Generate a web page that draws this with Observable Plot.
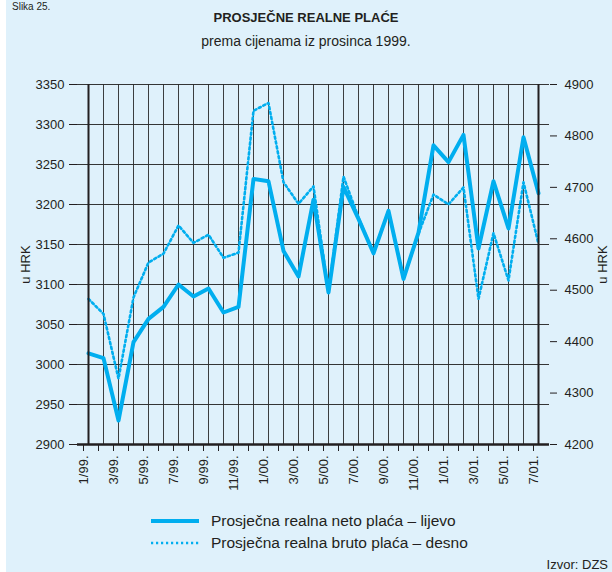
<!DOCTYPE html>
<html>
<head>
<meta charset="utf-8">
<script src="https://cdn.jsdelivr.net/npm/d3@7"></script>
<script src="https://cdn.jsdelivr.net/npm/@observablehq/plot@0.6"></script>
<style>
  html, body { margin: 0; padding: 0; background: #fff; }
  #wrap { position: relative; width: 612px; height: 572px; overflow: hidden; background: #fff;
          font-family: "Liberation Sans", Arial, Helvetica, sans-serif; color: #231f20; }
  #bg { position: absolute; left: 6px; top: 0; width: 606px; height: 572px; background: #dff1fb; }
  .t { position: absolute; white-space: nowrap; }
  #slika { left: 12px; top: 1px; font-size: 10px; line-height: 11px; }
  #title { left: 0; width: 612px; top: 10px; text-align: center; font-size: 13px; font-weight: bold; }
  #subtitle { left: 0; width: 612px; top: 33px; text-align: center; font-size: 14px; }
  #chart { position: absolute; left: 0; top: 60px; }
  .leg { position: absolute; left: 151px; font-size: 15.5px; }
  .leg svg { position: absolute; left: 0; top: 0; }
  .leg span { position: absolute; left: 60px; top: 0; white-space: nowrap; }
  #src { right: 4px; top: 557px; font-size: 13px; }
</style>
</head>
<body>
<div id="wrap">
  <div id="bg"></div>
  <div class="t" id="slika">Slika 25.</div>
  <div class="t" id="title">PROSJEČNE REALNE PLAĆE</div>
  <div class="t" id="subtitle">prema cijenama iz prosinca 1999.</div>
  <div id="chart"></div>
  <div class="leg" id="leg1" style="top:512px"></div>
  <div class="leg" id="leg2" style="top:534px"></div>
  <div class="t" id="src">Izvor: DZS</div>
</div>
<script>
// ---- data ----
const months = ["1/99","2/99","3/99","4/99","5/99","6/99","7/99","8/99","9/99","10/99","11/99","12/99",
                "1/00","2/00","3/00","4/00","5/00","6/00","7/00","8/00","9/00","10/00","11/00","12/00",
                "1/01","2/01","3/01","4/01","5/01","6/01","7/01"];
const labeledMonths = ["1/99","3/99","5/99","7/99","9/99","11/99","1/00","3/00","5/00","7/00","9/00","11/00","1/01","3/01","5/01","7/01"];
const neto = [3014, 3008, 2930, 3028, 3057, 3072, 3100, 3085, 3095, 3065, 3072, 3232,
              3229, 3142, 3110, 3206, 3090, 3222, 3182, 3139, 3192, 3107, 3165, 3274,
              3253, 3287, 3145, 3229, 3170, 3284, 3214];
const bruto = [4483, 4454, 4328, 4486, 4554, 4571, 4626, 4592, 4608, 4563, 4573, 4849,
               4864, 4710, 4668, 4702, 4496, 4721, 4641, 4572, 4655, 4522, 4610, 4686,
               4667, 4700, 4483, 4611, 4519, 4710, 4590];
const leftTicks = [2900, 2950, 3000, 3050, 3100, 3150, 3200, 3250, 3300, 3350];
const rightTicks = [4200, 4300, 4400, 4500, 4600, 4700, 4800, 4900];
const legendLabels = ["Prosječna realna neto plaća – lijevo", "Prosječna realna bruto plaća – desno"];

const lineColor = "#00aeef";
const ink = "#231f20";
const dash = "2.2 2.8";
const L0 = leftTicks[0], L1 = leftTicks[leftTicks.length - 1];
const R0 = rightTicks[0], R1 = rightTicks[rightTicks.length - 1];
const toL = v => L0 + (v - R0) * (L1 - L0) / (R1 - R0);
const fromL = y => R0 + (y - L0) * (R1 - R0) / (L1 - L0);

const chart = Plot.plot({
  width: 612, height: 450,
  marginTop: 24, marginBottom: 66, marginLeft: 77, marginRight: 63,
  style: { background: "transparent", fontFamily: "Liberation Sans, Arial, sans-serif", fontSize: "13px", color: ink },
  x: { type: "point", domain: months, padding: 0 },
  y: { domain: [L0, L1] },
  marks: [
    Plot.gridX(months, { stroke: "#2a2a2a", strokeOpacity: 0.9, strokeWidth: 1 }),
    Plot.gridY(leftTicks, { stroke: "#2a2a2a", strokeOpacity: 0.95, strokeWidth: 1 }),
    Plot.ruleY(rightTicks.map(toL), { x1: months[months.length - 2], x2: months[months.length - 1], insetLeft: 7.5, stroke: ink }),
    Plot.line(bruto, { x: (d, i) => months[i], y: d => toL(d), stroke: lineColor, strokeWidth: 2.6, strokeDasharray: dash }),
    Plot.line(neto, { x: (d, i) => months[i], y: d => d, stroke: lineColor, strokeWidth: 4 }),
    Plot.ruleX([months[0], months[months.length - 1]], { stroke: ink, strokeWidth: 2 }),
    Plot.ruleY([L0], { stroke: ink, strokeWidth: 2.5 }),
    Plot.axisY(leftTicks, { anchor: "left", tickSize: 8, tickPadding: 5, fontSize: 13,
      tickFormat: d => String(d),
      label: "u HRK", labelAnchor: "center", labelOffset: 57, labelArrow: "none" }),
    Plot.axisY(rightTicks.map(toL), { anchor: "right", tickSize: 7, tickPadding: 8, fontSize: 13,
      tickFormat: d => String(Math.round(fromL(d))),
      label: "u HRK", labelAnchor: "center", labelOffset: 57, labelArrow: "none" }),
    Plot.axisX(months, { tickSize: 7, tickPadding: 4, tickRotate: -90, fontSize: 13, dx: -5,
      tickFormat: d => labeledMonths.includes(d) ? d + "." : "", label: null })
  ]
});
document.getElementById("chart").appendChild(chart);

// legend
function legendItem(id, label, dashed) {
  const el = document.getElementById(id);
  el.innerHTML = `<svg width="50" height="20"><line x1="0" x2="48" y1="9" y2="9"
    stroke="${lineColor}" stroke-width="${dashed ? 2.6 : 4}" ${dashed ? `stroke-dasharray="${dash}"` : ''}/></svg><span>${label}</span>`;
}
legendItem("leg1", legendLabels[0], false);
legendItem("leg2", legendLabels[1], true);
</script>
</body>
</html>
